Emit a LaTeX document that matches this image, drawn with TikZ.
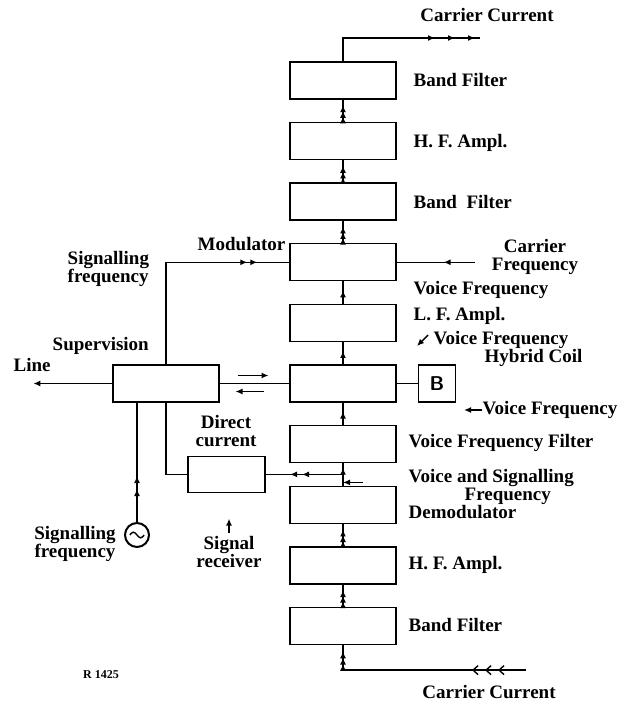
\documentclass[tikz,border=0pt]{standalone}
\usepackage{fontspec}
\setmainfont{Liberation Serif}
\usetikzlibrary{arrows.meta, positioning, calc, decorations.markings}

\begin{document}
\begin{tikzpicture}[x=0.5pt, y=-0.5pt, node distance=11.1pt,
  line width=0.7pt,
  font=\fontsize{9.5}{9}\selectfont\bfseries,
  box/.style={draw, minimum width=53pt, minimum height=18.5pt, inner sep=0pt},
  lbl/.style={anchor=west, inner sep=0pt, align=left},
  tag/.style={inner sep=0pt, align=center},
  tip/.style={-{Latex[length=3.5pt,width=3pt]}},
  mk/.style={postaction={decorate, decoration={markings,
    mark=at position #1 with {\arrow{Latex[length=3.5pt,width=3pt]}}}}},
  bk/.style={postaction={decorate, decoration={markings,
    mark=at position #1 with {\arrow{Straight Barb[length=2.5pt,width=4.5pt]}}}}},
  threeheads/.style={mk=0.25, mk=0.5, mk=0.75}]
  \useasboundingbox (0,0) rectangle (626,704);

  % main column
  \node[box] (bf1) at (343,80.5) {};
  \node[box, below=of bf1] (hf1) {};
  \node[box, below=of hf1] (bf2) {};
  \node[box, below=of bf2] (mod) {};
  \node[box, below=of mod] (lf) {};
  \node[box, below=of lf] (hyb) {};
  \node[box, below=of hyb] (vff) {};
  \node[box, below=of vff] (dem) {};
  \node[box, below=of dem] (hf2) {};
  \node[box, below=of hf2] (bf3) {};
  \coordinate (jn) at ($(vff.south)!0.5!(dem.north)$);

  % side boxes
  \node[box, minimum width=18.5pt, right=10.5pt of hyb, font=\sffamily\bfseries] (bal) {B};
  \node[box, left=34.8pt of hyb] (sup) {};
  \node[box, minimum width=38.5pt, minimum height=18pt, left=38.6pt of jn] (dc) {};
  \node[draw, circle, line width=1pt, minimum size=12pt, inner sep=0pt] (osc) at (137,535) {};
  \draw ([xshift=-3.6pt]osc.center) sin ++(1.8pt,1.4pt) cos ++(1.8pt,-1.4pt)
    sin ++(1.8pt,-1.4pt) cos ++(1.8pt,1.4pt);

  % labels
  \node[tag] (lcout) at (487,15) {Carrier Current};
  \node[lbl] (lbf1) at (413,80) {Band Filter};
  \node[lbl] (lhf1) at (413,143) {H. F. Ampl.};
  \node[lbl] (lbf2) at (413,202) {Band\ \ Filter};
  \node[lbl] (lmod) at (197,244) {Modulator};
  \node[lbl] (lsf1) at (67,269) {Signalling\\frequency};
  \node[tag] (lcf) at (535,257) {Carrier\\Frequency};
  \node[lbl] (lvf1) at (413,290) {Voice Frequency};
  \node[lbl] (llf) at (413,316) {L. F. Ampl.};
  \node[lbl] (lhyb) at (433,349) {Voice Frequency\\\hspace*{25.5pt}Hybrid Coil};
  \node[lbl] (lvf2) at (482,410) {Voice Frequency};
  \node[lbl] (lvff) at (408,443) {Voice Frequency Filter};
  \node[lbl] (ldem) at (408,494.5) {Voice and Signalling\\\hspace*{28pt}Frequency\\Demodulator};
  \node[lbl] (lhf2) at (408,565) {H. F. Ampl.};
  \node[lbl] (lbf3) at (408,625) {Band Filter};
  \node[tag] (lcin) at (489,692) {Carrier Current};
  \node[lbl] (lsup) at (52,346) {Supervision};
  \node[lbl] (lline) at (13,365) {Line};
  \node[tag] (ldc) at (226,431) {Direct\\current};
  \node[tag] (lsf2) at (75,544) {Signalling\\frequency};
  \node[tag] (lsr) at (229,552) {Signal\\receiver};
  \node[tag, font=\fontsize{6}{7}\selectfont\bfseries] (lref) at (101,675) {R 1425};

  % free ends
  \coordinate (cout) at (480,38);
  \coordinate (cin) at ([xshift=91.5pt, yshift=-12.5pt]bf3.south);
  \coordinate (cf) at ([xshift=39pt]mod.east);
  \coordinate (lineend) at ([xshift=-39.5pt]sup.west);
  \coordinate (m) at ($(sup.east)!0.5!(hyb.west)$);

  % carrier path
  \draw[mk=-2.5pt, mk=-12.5pt, mk=-22.5pt] (bf1.north) |- (cout);
  \draw[threeheads] (hf1) -- (bf1);
  \draw[threeheads] (bf2) -- (hf1);
  \draw[threeheads] (mod) -- (bf2);
  \draw[mk=0.6] (lf) -- (mod);
  \draw[mk=0.6] (hyb) -- (lf);
  \draw[mk=0.6] (vff) -- (hyb);
  \draw[mk=0.6] (jn) -- (vff);
  \draw (dem) -- (jn);
  \draw[threeheads] (hf2) -- (dem);
  \draw[threeheads] (bf3) -- (hf2);
  \draw[bk=14pt, bk=20.5pt, bk=27pt] (cin) -- (cin -| bf3.south);
  \draw[threeheads] (cin -| bf3.south) -- (bf3);
  \draw[mk=0.4] (cf) -- (mod.east);

  % supervision
  \draw (sup) -- (hyb);
  \draw (hyb) -- (bal);
  \draw[tip] (sup.west) -- (lineend);
  \draw[mk=-16pt, mk=-21pt] (sup.north) |- (mod.west);
  \draw (sup.south) |- (dc.west);
  \draw[mk=20.5pt, mk=26.5pt] (jn) -- (dc.east);
  \draw[mk=16.5pt, mk=23pt] (osc.north) -- (osc.north |- sup.south);
  \draw[tip] ($(m)+(-17,-8)$) -- ($(m)+(14,-8)$);
  \draw[tip] ($(m)+(9,8)$) -- ($(m)+(-19,8)$);
  \draw[tip] ($(jn)+(20,8)$) -- ($(jn)+(0,8)$);

  % pointers
  \draw[tip] (lhyb.west) ++(-5,-14) -- ++(-11,11);
  \draw[tip] (lvf2.west) -- ++(-18,0);
  \draw[tip] (lsr.north) ++(0,-3) -- ++(0,-14);
\end{tikzpicture}
\end{document}
